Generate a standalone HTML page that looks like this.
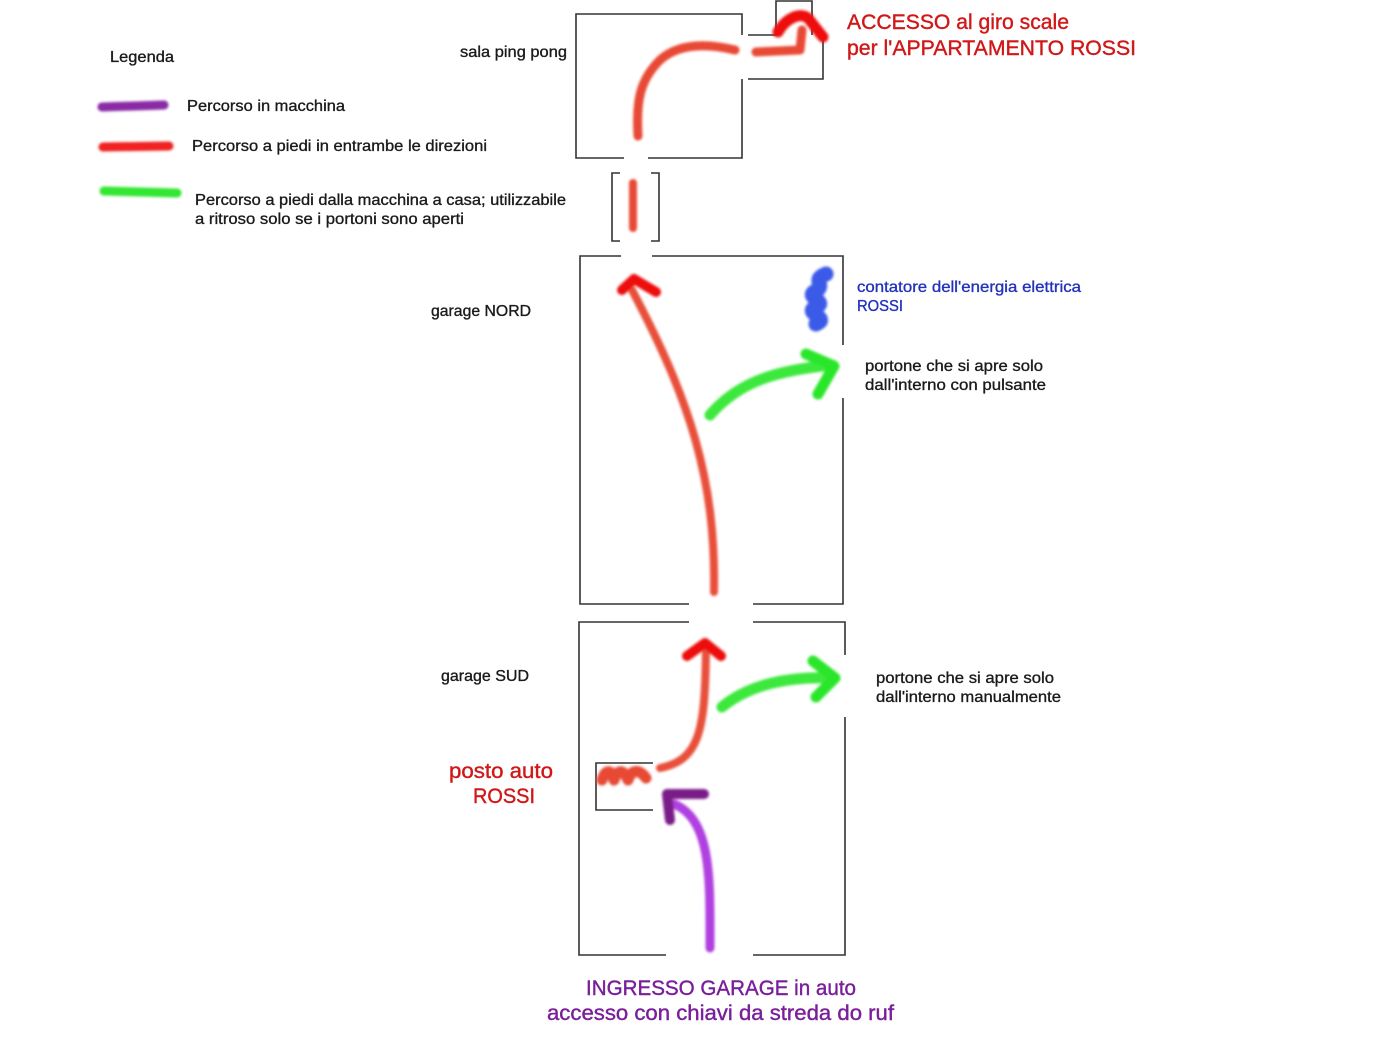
<!DOCTYPE html>
<html><head><meta charset="utf-8"><style>
html,body{margin:0;padding:0;background:#fff;}
svg{display:block;}
text{font-family:"Liberation Sans",Arial,sans-serif;}
.t{font-size:16px;fill:#1a1a1a;stroke:#1a1a1a;stroke-width:0.35px;}
.big{font-size:21px;stroke-width:0.4px;}
</style></head><body>
<svg width="1400" height="1050" viewBox="0 0 1400 1050" xmlns="http://www.w3.org/2000/svg">
<defs><filter id="b" x="-20%" y="-20%" width="140%" height="140%"><feGaussianBlur stdDeviation="1.3"/></filter></defs>
<g fill="none" stroke="#333" stroke-width="1.6">
<polyline points="624,158 576,158 576,14 742,14 742,35"/>
<polyline points="648,158 742,158 742,79"/>
<polyline points="748,35 776,35 776,1 812,1 812,35"/>
<polyline points="823,38 823,79 748,79"/>
<polyline points="620,173 612,173 612,241 620,241"/>
<polyline points="651,173 659,173 659,241 651,241"/>
<polyline points="621,256 580,256 580,604 689,604"/>
<polyline points="652,256 843,256 843,345"/>
<polyline points="843,398 843,604 753,604"/>
<polyline points="689,622 579,622 579,955 666,955"/>
<polyline points="753,622 845,622 845,655"/>
<polyline points="845,717 845,955 753,955"/>
<polyline points="653,763 596,763 596,810 653,810"/>
</g>
<g fill="none" stroke-linecap="round" stroke-linejoin="round" filter="url(#b)">
<line x1="102" y1="107" x2="164" y2="105" stroke="#8a2aa5" stroke-width="9"/>
<line x1="103" y1="147" x2="169" y2="146" stroke="#f02020" stroke-width="9"/>
<line x1="104" y1="191" x2="177" y2="193" stroke="#33e633" stroke-width="9"/>
<path d="M638,136 C636,100 640,80 660,60 C680,42 710,44 735,50" stroke="#e84a35" stroke-width="9"/>
<path d="M756,52 L800,50 L802,30" stroke="#e84a35" stroke-width="9"/>
<path d="M778,32 C786,18 800,12 808,18 L823,37" stroke="#ee1010" stroke-width="11"/>
<line x1="633" y1="183" x2="633" y2="228" stroke="#e84a35" stroke-width="8"/>
<path d="M714,592 C716,480 690,400 632,290" stroke="#e8503a" stroke-width="8"/>
<polyline points="622,290 634,279 656,292" stroke="#ee1010" stroke-width="10"/>
<path d="M710,415 C740,380 780,370 832,365" stroke="#3ee83e" stroke-width="11"/>
<polyline points="806,354 834,366 818,394" stroke="#2ce62c" stroke-width="11"/>
<path d="M826,274 C810,280 828,286 814,292 C806,298 830,302 814,308 C806,314 830,318 816,324" stroke="#3a5ae8" stroke-width="15"/>
<path d="M660,768 C700,760 705,730 706,650" stroke="#e8503a" stroke-width="8"/>
<polyline points="687,656 705,643 721,656" stroke="#ee1010" stroke-width="10"/>
<path d="M602,780 C606,768 612,770 614,780 C618,768 624,770 628,780 C632,768 640,770 646,778" stroke="#e84a35" stroke-width="11"/>
<path d="M722,707 C750,684 790,676 832,678" stroke="#3ee83e" stroke-width="11"/>
<polyline points="813,661 835,678 816,697" stroke="#2ce62c" stroke-width="11"/>
<path d="M710,948 C710,880 712,820 674,804" stroke="#b040e0" stroke-width="9"/>
<polyline points="704,794 667,794 670,820" stroke="#7a1a88" stroke-width="10"/>
</g>
<g class="t">
<text x="110" y="62" textLength="64" lengthAdjust="spacingAndGlyphs">Legenda</text>
<text x="187" y="111" textLength="158" lengthAdjust="spacingAndGlyphs">Percorso in macchina</text>
<text x="192" y="151" textLength="295" lengthAdjust="spacingAndGlyphs">Percorso a piedi in entrambe le direzioni</text>
<text x="195" y="205" textLength="371" lengthAdjust="spacingAndGlyphs">Percorso a piedi dalla macchina a casa; utilizzabile</text>
<text x="195" y="224" textLength="269" lengthAdjust="spacingAndGlyphs">a ritroso solo se i portoni sono aperti</text>
<text x="460" y="57" textLength="107" lengthAdjust="spacingAndGlyphs">sala ping pong</text>
<text x="431" y="316" textLength="100" lengthAdjust="spacingAndGlyphs">garage NORD</text>
<text x="441" y="681" textLength="88" lengthAdjust="spacingAndGlyphs">garage SUD</text>
<text x="865" y="371" textLength="178" lengthAdjust="spacingAndGlyphs">portone che si apre solo</text>
<text x="865" y="390" textLength="181" lengthAdjust="spacingAndGlyphs">dall'interno con pulsante</text>
<text x="876" y="683" textLength="178" lengthAdjust="spacingAndGlyphs">portone che si apre solo</text>
<text x="876" y="702" textLength="185" lengthAdjust="spacingAndGlyphs">dall'interno manualmente</text>
</g>
<g class="t" style="fill:#2233bb;stroke:#2233bb">
<text x="857" y="292" textLength="224" lengthAdjust="spacingAndGlyphs">contatore dell'energia elettrica</text>
<text x="857" y="311" textLength="46" lengthAdjust="spacingAndGlyphs">ROSSI</text>
</g>
<g class="big" style="fill:#d01818;stroke:#d01818">
<text x="847" y="29" textLength="222" lengthAdjust="spacingAndGlyphs">ACCESSO al giro scale</text>
<text x="847" y="55" textLength="289" lengthAdjust="spacingAndGlyphs">per l'APPARTAMENTO ROSSI</text>
<text x="449" y="778" textLength="104" lengthAdjust="spacingAndGlyphs">posto auto</text>
<text x="473" y="803" textLength="62" lengthAdjust="spacingAndGlyphs">ROSSI</text>
</g>
<g class="big" style="fill:#7a1f9a;stroke:#7a1f9a">
<text x="586" y="995" textLength="270" lengthAdjust="spacingAndGlyphs">INGRESSO GARAGE in auto</text>
<text x="547" y="1020" textLength="347" lengthAdjust="spacingAndGlyphs">accesso con chiavi da streda do ruf</text>
</g>
</svg>
</body></html>
